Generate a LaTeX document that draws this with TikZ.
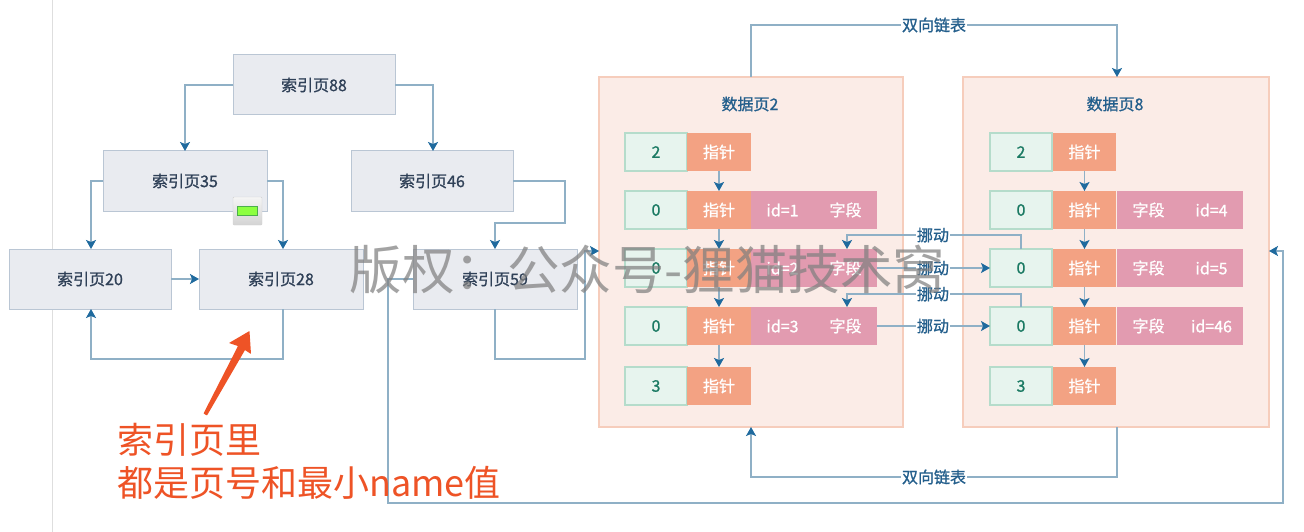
\documentclass[tikz,border=0pt]{standalone}
\usepackage{fontspec}
\setmainfont{Noto Sans CJK SC}
\newfontfamily\labelfont[FakeBold=1]{Noto Sans CJK SC}
\usetikzlibrary{arrows.meta}
\definecolor{tipblue}{HTML}{1F6A9E}
\definecolor{lineblue}{HTML}{8FB0C6}
\definecolor{labelblue}{HTML}{245F8C}
\definecolor{redmark}{HTML}{EE5326}
\definecolor{indexfill}{HTML}{E9EBF0}
\definecolor{indexline}{HTML}{BAC6D4}
\definecolor{indextext}{HTML}{2F4057}
\definecolor{pagefill}{HTML}{FBECE7}
\definecolor{pageline}{HTML}{F6CDBC}
\definecolor{numfill}{HTML}{E7F4EE}
\definecolor{numline}{HTML}{B5DCCB}
\definecolor{numtext}{HTML}{1B7A63}
\definecolor{ptrfill}{HTML}{F3A283}
\definecolor{fieldfill}{HTML}{E29BB0}
\tikzset{
  base/.style={outer sep=0pt, inner sep=0pt, font=\labelfont\fontsize{16}{18}\selectfont},
  indexbox/.style={base, draw=indexline, line width=1pt, fill=indexfill, minimum width=162pt, minimum height=60pt, text=indextext},
  pagebox/.style={draw=pageline, fill=pagefill, line width=1.5pt, outer sep=0pt, minimum width=304pt, minimum height=350pt},
  numbox/.style={base, draw=numline, fill=numfill, line width=1.2pt, minimum width=62pt, minimum height=38pt, text=numtext},
  ptrbox/.style={base, fill=ptrfill, minimum width=64pt, minimum height=38pt, text=white},
  fieldbox/.style={base, fill=fieldfill, minimum width=63pt, minimum height=38pt, text=white},
  linktext/.style={base, fill=white, inner xsep=1pt, text=labelblue},
  titletext/.style={base, text=labelblue},
  flow/.style={draw=lineblue, line width=1.4pt, -{Stealth[length=9pt, width=10pt, inset=2pt, color=tipblue]}},
  plain/.style={draw=lineblue, line width=1.4pt}
}
\begin{document}
\begin{tikzpicture}[x=1pt, y=-1pt]
    \useasboundingbox (0,0) rectangle (1304,532);
    \draw[black!13, line width=1pt] (52.5,0) -- (52.5,532);

    \node[indexbox] (idx88) at (314,85) {索引页88};
    \node[indexbox, minimum width=164pt] (idx35) at (185,181) {索引页35};
    \node[indexbox] (idx46) at (432,181) {索引页46};
    \node[indexbox] (idx20) at (90,279) {索引页20};
    \node[indexbox, minimum width=164pt] (idx28) at (281,279) {索引页28};
    \node[indexbox, minimum width=164pt] (idx59) at (495,279) {索引页59};

    \node[pagebox] (page2) at (751,252) {};
    \node[pagebox, minimum width=306pt] (page8) at (1116,252) {};
    \node[titletext] (title2) at (750,104) {数据页2};
    \node[titletext] (title8) at (1115,104) {数据页8};
    \coordinate (page2in) at (599,251);
    \coordinate (page8in) at (1269,251);

    \node[numbox] (a1) at (656,152) {2};
    \node[ptrbox] (p1) at (719,152) {指针};
    \node[numbox] (a2) at (656,210) {0};
    \node[ptrbox] (p2) at (719,210) {指针};
    \node[fieldbox] (f2) at (782.5,210) {id=1};
    \node[fieldbox] (g2) at (845.5,210) {字段};
    \node[numbox] (a3) at (656,268) {0};
    \node[ptrbox] (p3) at (719,268) {指针};
    \node[fieldbox] (f3) at (782.5,268) {id=2};
    \node[fieldbox] (g3) at (845.5,268) {字段};
    \node[numbox] (a4) at (656,326) {0};
    \node[ptrbox] (p4) at (719,326) {指针};
    \node[fieldbox] (f4) at (782.5,326) {id=3};
    \node[fieldbox] (g4) at (845.5,326) {字段};
    \node[numbox] (a5) at (656,386) {3};
    \node[ptrbox] (p5) at (719,386) {指针};

    \node[numbox] (b1) at (1021,152) {2};
    \node[ptrbox, minimum width=63pt] (q1) at (1084.5,152) {指针};
    \node[numbox] (b2) at (1021,210) {0};
    \node[ptrbox, minimum width=63pt] (q2) at (1084.5,210) {指针};
    \node[fieldbox] (h2) at (1148.5,210) {字段};
    \node[fieldbox] (k2) at (1211.5,210) {id=4};
    \node[numbox] (b3) at (1021,268) {0};
    \node[ptrbox, minimum width=63pt] (q3) at (1084.5,268) {指针};
    \node[fieldbox] (h3) at (1148.5,268) {字段};
    \node[fieldbox] (k3) at (1211.5,268) {id=5};
    \node[numbox] (b4) at (1021,326) {0};
    \node[ptrbox, minimum width=63pt] (q4) at (1084.5,326) {指针};
    \node[fieldbox] (h4) at (1148.5,326) {字段};
    \node[fieldbox] (k4) at (1211.5,326) {id=46};
    \node[numbox] (b5) at (1021,386) {3};
    \node[ptrbox, minimum width=63pt] (q5) at (1084.5,386) {指针};

    \node[linktext] (linktop) at (934,25) {双向链表};
    \node[linktext] (linkbot) at (934,477) {双向链表};
    \node[linktext] (move1) at (933,235) {挪动};
    \node[linktext] (move2) at (933,268) {挪动};
    \node[linktext] (move3) at (933,294) {挪动};
    \node[linktext] (move4) at (933,326) {挪动};

    \draw[flow] (idx88.west) -| (idx35.north);
    \draw[flow] (idx88.east) -| ([xshift=1pt]idx46.north);
    \draw[flow] (idx35.west) -| ([xshift=1pt]idx20.north);
    \draw[flow] (idx35.east) -| ([xshift=2pt]idx28.north);
    \draw[flow] (idx46.east) -- ++(52,0) -- ++(0,42) -| (idx59.north);
    \draw[flow] (idx20.east) -- (idx28.west);
    \draw[flow] ([xshift=2pt]idx28.south) -- ++(0,50) -| ([xshift=1pt]idx20.south);
    \draw[flow] (idx59.south) -- ++(0,50) -- ++(90,0) |- (page2in);
    \draw[flow] (idx59.west) -- ++(-25,0) -- ++(0,224) -- ++(895,0) |- (page8in);

    \draw[plain] (page2.north) |- (linktop);
    \draw[flow] (linktop) -| ([xshift=1pt]page8.north);
    \draw[plain] ([xshift=1pt]page8.south) |- (linkbot);
    \draw[flow] (linkbot) -| (page2.south);

    \draw[flow] (p1) -- (p2);
    \draw[flow] (p2) -- (p3);
    \draw[flow] (p3) -- (p4);
    \draw[flow] (p4) -- (p5);
    \draw[flow] (q1) -- (q2);
    \draw[flow] (q2) -- (q3);
    \draw[flow] (q3) -- (q4);
    \draw[flow] (q4) -- (q5);

    \draw[plain] (b3.north) |- (move1);
    \draw[flow] (move1) -| ([xshift=1.5pt]g3.north);
    \draw[plain] (g3.east) -- (move2);
    \draw[flow] (move2) -- (b3.west);
    \draw[plain] (b4.north) |- (move3);
    \draw[flow] (move3) -| ([xshift=1.5pt]g4.north);
    \draw[plain] (g4.east) -- (move4);
    \draw[flow] (move4) -- (b4.west);

    \node[draw=black!18, rounded corners=1pt, top color=black!4, bottom color=black!17, minimum width=29pt, minimum height=28pt, outer sep=0pt, inner sep=0pt] (icon) at (247.5,211) {};
    \node[draw=green!55!black!70, fill=green!60!yellow!75!white, minimum width=20pt, minimum height=9pt, inner sep=0pt] (iconbar) at (icon) {};

    \fill[redmark, rounded corners=0.5pt] (203.5,413.5) -- (238,346) -- (229,343) -- (249.5,331) -- (251,354) -- (245,350) -- (207,415.5) -- cycle;
    \node[anchor=north west, align=left, inner sep=0pt, text=redmark, font=\fontsize{36}{43}\selectfont] (note) at (117,423) {索引页里\\都是页号和最小name值};

    \node[text=black!50, text opacity=0.72, font=\fontsize{52.5}{60}\selectfont, inner sep=0pt] (mark) at (647.5,269) {版权：公众号-狸猫技术窝};
  \end{tikzpicture}
\end{document}
